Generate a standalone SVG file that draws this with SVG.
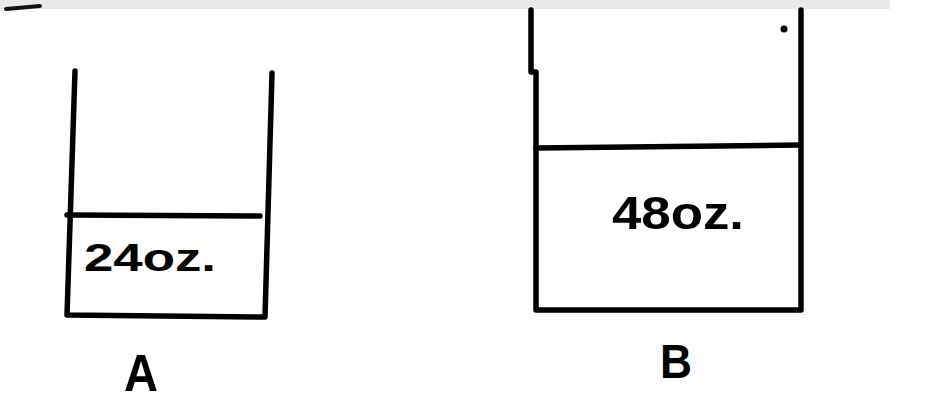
<svg xmlns="http://www.w3.org/2000/svg" width="936" height="404" viewBox="0 0 936 404">
<style>
.ln{stroke:#000;stroke-width:5.5;fill:none;stroke-linecap:round;stroke-linejoin:round}
.lbl{font-family:"Liberation Sans",Arial,sans-serif;font-weight:bold;fill:#000}
</style>
<rect x="0" y="0" width="936" height="404" fill="#fff"/>
<rect x="0" y="0" width="890" height="9" fill="#eae8ea"/>
<path d="M6 9 L40 6" stroke="#111" stroke-width="4" fill="none" stroke-linecap="round"/>
<g id="containerA">
<path class="ln" d="M75 71 L67 315 L265 317 L272 73"/>
<path class="ln" d="M67 215 L260 216"/>
<text class="lbl" x="84" y="271" font-size="38" textLength="132" lengthAdjust="spacingAndGlyphs">24oz.</text>
</g>
<g id="containerB">
<path class="ln" d="M531 10 L531 72 L536 72 L536 310 L801 310 L801 10"/>
<path class="ln" d="M536 148 L800 145"/>
<circle cx="784" cy="29" r="3.5" fill="#000"/>
<text class="lbl" x="612" y="229" font-size="46" textLength="132" lengthAdjust="spacingAndGlyphs">48oz.</text>
</g>
<g id="labels">
<text class="lbl" x="124" y="391" font-size="52" textLength="34" lengthAdjust="spacingAndGlyphs">A</text>
<text class="lbl" x="660" y="378" font-size="48" textLength="32" lengthAdjust="spacingAndGlyphs">B</text>
</g>
</svg>
